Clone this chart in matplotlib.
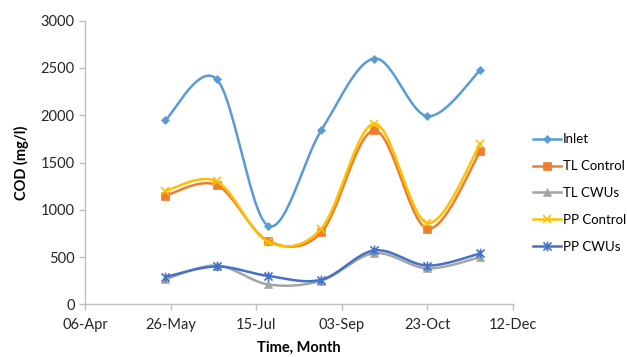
import matplotlib
matplotlib.use("Agg")
import matplotlib.pyplot as plt
import matplotlib.dates as mdates
from matplotlib.path import Path
import numpy as np

# sampling dates (monthly) and COD readings in mg/l
dates = ["2015-05-23", "2015-06-22", "2015-07-22", "2015-08-22",
         "2015-09-22", "2015-10-23", "2015-11-23"]
inlet = [1950, 2380, 830, 1840, 2600, 1990, 2480]
tl_control = [1150, 1260, 670, 760, 1840, 800, 1620]
tl_cwus = [265, 410, 210, 250, 540, 380, 500]
pp_control = [1200, 1300, 660, 800, 1910, 860, 1700]
pp_cwus = [290, 400, 300, 260, 570, 410, 540]

series_names = ["Inlet", "TL Control", "TL CWUs", "PP Control", "PP CWUs"]
colors = ["#5B9BD5", "#ED7D31", "#A5A5A5", "#FFC000", "#4472C4"]

# asterisk marker: an x with a vertical bar through it
star = Path([(-1, -1), (1, 1), (-1, 1), (1, -1), (0, -1.2), (0, 1.2)],
            [Path.MOVETO, Path.LINETO, Path.MOVETO, Path.LINETO,
             Path.MOVETO, Path.LINETO])
markers = ["D", "s", "^", "x", star]
msizes = [4.5, 6, 6, 6, 7]


def smooth(x, y, n=30):
    # Bezier smoothing like a spreadsheet "smoothed line"
    x = np.asarray(x, float)
    y = np.asarray(y, float)
    px = np.concatenate([[x[0]], x, [x[-1]]])
    py = np.concatenate([[y[0]], y, [y[-1]]])
    t = np.linspace(0, 1, n)
    xs, ys = [], []
    for i in range(1, len(px) - 2):
        p0 = np.array([px[i], py[i]])
        p3 = np.array([px[i + 1], py[i + 1]])
        c1 = p0 + (p3 - np.array([px[i - 1], py[i - 1]])) / 6
        c2 = p3 - (np.array([px[i + 2], py[i + 2]]) - p0) / 6
        b = ((1 - t) ** 3)[:, None] * p0 + (3 * (1 - t) ** 2 * t)[:, None] * c1 \
            + (3 * (1 - t) * t ** 2)[:, None] * c2 + (t ** 3)[:, None] * p3
        xs.extend(b[:, 0])
        ys.extend(b[:, 1])
    return np.array(xs), np.array(ys)


plt.rcParams['font.family'] = ['Lato', 'DejaVu Sans']

fig = plt.figure(figsize=(6.27, 3.57), dpi=100)
ax = fig.add_axes([85 / 627, 1 - 304.3 / 357, 428 / 627, 283.6 / 357])

xd = mdates.datestr2num(dates)
handles = []
for name, vals, c, m, ms in zip(series_names,
                                [inlet, tl_control, tl_cwus, pp_control, pp_cwus],
                                colors, markers, msizes):
    sx, sy = smooth(xd, vals)
    ax.plot(sx, sy, color=c, lw=1.8, solid_capstyle='round')
    mew = 1.2 if (m == "x" or m is star) else 0.5
    ax.plot(xd, vals, linestyle='none', marker=m, ms=ms, color=c,
            markeredgewidth=mew)
    h, = ax.plot([], [], color=c, lw=1.8, marker=m, ms=ms,
                 markeredgewidth=mew)
    handles.append(h)

x0 = mdates.datestr2num("2015-04-06")
ax.set_xlim(x0, x0 + 250)
ax.set_ylim(0, 3000)
ax.set_xticks([x0 + 50 * k for k in range(6)])
ax.xaxis.set_major_formatter(mdates.DateFormatter("%d-%b"))
ax.set_yticks(range(0, 3001, 500))

for s in ["top", "right"]:
    ax.spines[s].set_visible(False)
for s in ["left", "bottom"]:
    ax.spines[s].set_color("#BFBFBF")
    ax.spines[s].set_linewidth(1)
ax.tick_params(colors="#BFBFBF", labelcolor="#262626", labelsize=10.5,
               length=4, width=1)
ax.tick_params(axis='x', pad=6)

ax.set_ylabel("COD (mg/l)", fontsize=10.5, fontweight='bold', color="#000000",
              labelpad=8)
ax.set_xlabel("Time, Month", fontsize=10.5, fontweight='bold', color="#000000",
              labelpad=6)

fig.legend(handles, series_names, loc='center left',
           bbox_to_anchor=(533 / 627, 1 - 193 / 357), frameon=False,
           fontsize=9.5, handlelength=2.1, handletextpad=0.15,
           labelspacing=1.12, borderpad=0, borderaxespad=0)

fig.savefig("out.png", dpi=100)
